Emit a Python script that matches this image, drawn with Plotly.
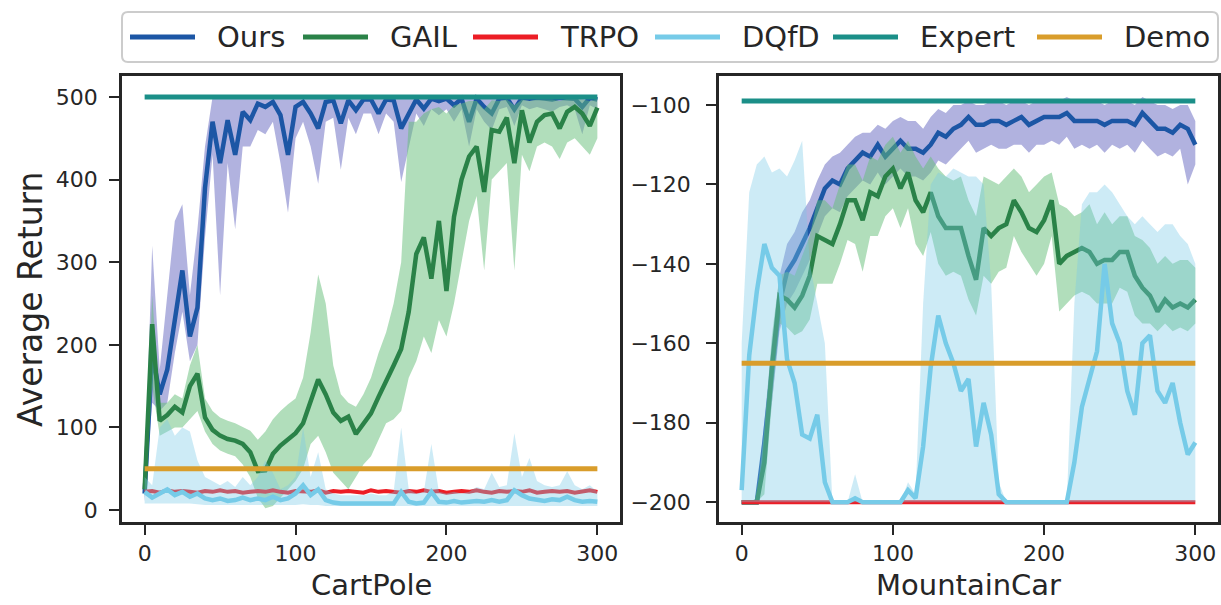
import plotly.graph_objects as go

# ---------------- data ----------------
STEPS = list(range(0, 301, 5))

# CartPole
cp_ours = [20, 190, 140, 170, 230, 290, 210, 245, 390, 470,
           420, 472, 430, 482, 472, 492, 488, 494, 478, 430,
           488, 494, 480, 462, 494, 496, 468, 496, 484, 497,
           497, 480, 497, 496, 462, 480, 497, 486, 498, 495,
           498, 490, 498, 470, 498, 488, 480, 498, 499, 485,
           499, 498, 499, 498, 497, 499, 499, 498, 488, 499,
           497]
cp_ours_hi = [30, 320, 170, 260, 350, 370, 260, 340, 440, 500,
              500, 500, 500, 500, 500, 500, 500, 500, 500, 500,
              500, 500, 500, 500, 500, 500, 500, 500, 500, 500,
              500, 500, 500, 500, 500, 500, 500, 500, 500, 500,
              500, 500, 500, 500, 500, 500, 500, 500, 500, 500,
              500, 500, 500, 500, 500, 500, 500, 500, 500, 500,
              500]
cp_ours_lo = [10, 130, 120, 130, 190, 240, 180, 200, 330, 430,
              260, 420, 340, 440, 440, 460, 455, 470, 420, 360,
              450, 470, 440, 395, 470, 475, 412, 475, 455, 480,
              480, 455, 480, 470, 397, 440, 480, 465, 485, 478,
              485, 470, 485, 440, 485, 470, 460, 485, 488, 465,
              490, 485, 488, 485, 482, 488, 490, 485, 455, 490,
              485]
cp_gail = [25, 225, 108, 115, 125, 118, 150, 165, 112, 97,
           90, 86, 84, 80, 70, 47, 48, 68, 78, 86,
           93, 105, 130, 158, 140, 118, 108, 113, 92, 105,
           117, 137, 155, 175, 195, 240, 310, 330, 280, 350,
           265, 355, 400, 428, 440, 385, 460, 458, 475, 420,
           484, 445, 470, 478, 480, 462, 482, 488, 480, 465,
           487]
cp_gail_hi = [30, 260, 130, 130, 140, 135, 175, 200, 135, 120,
              112, 108, 105, 100, 96, 85, 95, 110, 120, 128,
              135, 160, 215, 285, 250, 175, 140, 130, 125, 140,
              160, 190, 215, 250, 300, 470, 470, 480, 485, 488,
              480, 490, 492, 495, 495, 485, 496, 495, 497, 490,
              497, 495, 497, 497, 497, 495, 498, 498, 497, 495,
              498]
cp_gail_lo = [15, 150, 90, 95, 100, 100, 110, 120, 95, 80,
              72, 68, 65, 55, 40, 15, 2, 5, 15, 25,
              35, 50, 80, 90, 70, 45, 35, 25, 40, 55,
              65, 85, 105, 110, 120, 160, 180, 210, 190, 230,
              210, 250, 300, 350, 380, 290, 400, 410, 420, 290,
              430, 410, 440, 445, 440, 425, 445, 450, 440, 430,
              450]
cp_trpo = [22, 23, 21, 24, 22, 23, 22, 21, 23, 22,
           24, 22, 23, 21, 22, 23, 22, 24, 22, 21,
           23, 22, 22, 24, 21, 23, 22, 23, 22, 21,
           24, 22, 23, 22, 21, 23, 22, 24, 22, 23,
           21, 22, 23, 22, 24, 22, 21, 23, 22, 23,
           22, 24, 21, 22, 23, 22, 23, 21, 22, 24,
           22]
cp_dqfd = [22, 15, 20, 25, 18, 22, 16, 20, 14, 12,
           14, 11, 12, 15, 12, 14, 12, 16, 12, 14,
           20, 30, 18, 25, 12, 9, 8, 8, 8, 8,
           9, 8, 8, 8, 22, 10, 8, 9, 22, 10,
           9, 11, 9, 10, 11, 10, 12, 10, 12, 24,
           18, 14, 12, 11, 13, 12, 16, 12, 10, 11,
           10]
cp_dqfd_hi = [40, 30, 100, 110, 90, 100, 95, 60, 40, 35,
              30, 35, 28, 40, 30, 40, 60, 45, 25, 30,
              40, 100, 40, 70, 25, 20, 18, 18, 18, 18,
              20, 18, 18, 22, 100, 25, 20, 22, 80, 22,
              20, 22, 20, 22, 28, 25, 45, 28, 30, 93,
              40, 63, 35, 30, 28, 30, 47, 30, 25, 30,
              22]
cp_dqfd_lo = [8, 8, 8, 8, 8, 8, 8, 7, 6, 6,
              6, 6, 6, 6, 6, 6, 6, 6, 6, 6,
              6, 7, 6, 6, 5, 5, 5, 5, 5, 5,
              5, 5, 5, 5, 5, 5, 5, 5, 5, 5,
              5, 5, 5, 5, 5, 5, 5, 5, 5, 5,
              5, 5, 5, 5, 5, 5, 5, 5, 5, 5,
              5]
cp_ref_x = [0, 300]
cp_expert = [500, 500]
cp_demo = [50, 50]

# MountainCar
mc_ours = [-200, -200, -200, -185, -168, -150, -142, -139, -135, -131,
           -126, -121, -119, -120, -116, -114, -112, -113, -110, -113,
           -111, -109, -111, -111, -112, -110, -107, -108, -106, -105,
           -103, -105, -105, -104, -104, -105, -104, -103, -105, -104,
           -103, -103, -103, -102, -104, -104, -104, -104, -105, -104,
           -104, -104, -105, -102, -104, -106, -106, -107, -105, -106,
           -110]
mc_ours_hi = [-200, -200, -199, -180, -160, -143, -135, -132, -127, -124,
              -119, -115, -113, -112, -110, -108, -107, -107, -105, -106,
              -104, -103, -104, -104, -106, -103, -101, -102, -100, -100,
              -99, -100, -100, -99, -99, -100, -99, -99, -100, -99,
              -99, -99, -99, -98, -99, -99, -99, -99, -100, -99,
              -99, -99, -100, -98, -99, -100, -100, -101, -100, -100,
              -104]
mc_ours_lo = [-200, -200, -200, -190, -175, -157, -150, -147, -143, -139,
              -133, -128, -126, -127, -123, -121, -119, -120, -117, -120,
              -118, -116, -118, -118, -119, -117, -114, -115, -113, -111,
              -109, -112, -111, -110, -111, -111, -110, -110, -112, -110,
              -110, -109, -110, -108, -111, -110, -111, -110, -112, -110,
              -111, -110, -112, -109, -111, -113, -112, -113, -111, -120,
              -115]
mc_gail = [-200, -200, -200, -190, -166, -148, -149, -151, -148, -143,
           -133, -134, -135, -130, -124, -124, -129, -122, -123, -118,
           -116, -121, -117, -124, -127, -122, -128, -131, -131, -131,
           -138, -144, -131, -133, -131, -130, -124, -127, -131, -132,
           -129, -124, -140, -138, -137, -136, -137, -140, -139, -139,
           -137, -137, -143, -146, -148, -152, -149, -151, -150, -151,
           -149]
mc_gail_hi = [-200, -200, -199, -182, -158, -143, -142, -143, -138, -133,
              -124, -124, -126, -120, -115, -115, -119, -113, -114, -110,
              -108, -112, -109, -113, -116, -113, -116, -118, -119, -118,
              -124, -128, -118, -119, -120, -118, -116, -118, -122, -120,
              -118, -117, -125, -126, -128, -127, -125, -130, -127, -130,
              -128, -128, -133, -134, -136, -140, -138, -140, -139, -139,
              -141]
mc_gail_lo = [-200, -200, -200, -198, -175, -155, -156, -158, -157, -154,
              -145, -145, -145, -140, -134, -135, -142, -133, -133, -128,
              -126, -131, -126, -135, -138, -132, -140, -143, -142, -143,
              -149, -153, -143, -145, -142, -141, -133, -137, -140, -143,
              -140, -133, -152, -150, -148, -147, -148, -150, -150, -150,
              -146, -147, -153, -155, -155, -157, -155, -157, -156, -157,
              -155]
mc_dqfd = [-197, -163, -147, -135, -141, -143, -164, -170, -183, -184,
           -178, -195, -200, -200, -200, -199, -200, -200, -200, -200,
           -200, -200, -197, -199, -186, -166, -153, -160, -165, -172,
           -169, -186, -175, -183, -198, -200, -200, -200, -200, -200,
           -200, -200, -200, -200, -190, -176, -169, -162, -140, -155,
           -160, -172, -178, -160, -158, -172, -175, -170, -180, -188,
           -185]
mc_dqfd_hi = [-160, -122, -115, -113, -117, -116, -118, -114, -109, -140,
              -150, -160, -200, -200, -200, -193, -200, -200, -200, -200,
              -200, -200, -195, -198, -150, -120, -117, -118, -116, -117,
              -118, -118, -120, -145, -195, -200, -200, -200, -200, -200,
              -200, -200, -200, -200, -150, -125, -122, -122, -120, -122,
              -125, -128, -130, -128, -130, -132, -130, -130, -133, -135,
              -140]
mc_ref_x = [0, 300]
mc_dqfd_lo = [-200, -200]
mc_trpo = [-200, -200]
mc_expert = [-99, -99]
mc_demo = [-165, -165]

LEGEND_NAMES = ["Ours", "GAIL", "TRPO", "DQfD", "Expert", "Demo"]
cp_yticks = [0, 100, 200, 300, 400, 500]
cp_ytick_labels = ["0", "100", "200", "300", "400", "500"]
mc_yticks = [-200, -180, -160, -140, -120, -100]
mc_ytick_labels = ["\u2212200", "\u2212180", "\u2212160", "\u2212140", "\u2212120", "\u2212100"]
xticks = [0, 100, 200, 300]

# ---------------- style ----------------
FONT = "DejaVu Sans"
INK = "#262626"
COLORS = {"Ours": "#1c56a5", "GAIL": "#2a8248", "TRPO": "#ec1d25",
          "DQfD": "#76cbe8", "Expert": "#1b8f88", "Demo": "#d99d2b"}
WIDTHS = {"Ours": 4.5, "GAIL": 4.5, "TRPO": 4, "DQfD": 4.5, "Expert": 5, "Demo": 5}
F_OURS = "rgba(120,122,200,0.58)"
F_GAIL = "rgba(100,190,120,0.5)"
F_DQFD = "rgba(120,200,230,0.37)"

W, H = 1221, 605
FRAME_L = (122, 620)
FRAME_R = (719, 1218)
FRAME_Y = (76, 522)
LEG_BOX = (122, 12, 1218, 62)
LEG_TEXT_X = [215, 388, 558, 740, 918, 1122]   # legend text starts (px)
LEG_HANDLE = (85, 20)                            # handle start / end offsets before text
PAD_L = "\u00a0"    # extra gap between tick labels and ticks
PAD_R = "\u2002"

fig = go.Figure()


def band(xa, ya, xs_lo, lo, xs_hi, hi, color):
    fig.add_trace(go.Scatter(x=xs_lo, y=lo, mode="lines", line=dict(width=0),
                             showlegend=False, hoverinfo="skip", xaxis=xa, yaxis=ya))
    fig.add_trace(go.Scatter(x=xs_hi, y=hi, mode="lines", line=dict(width=0),
                             fill="tonexty", fillcolor=color,
                             showlegend=False, hoverinfo="skip", xaxis=xa, yaxis=ya))


def line(xa, ya, xs, ys, name):
    fig.add_trace(go.Scatter(x=xs, y=ys, mode="lines", name=name,
                             line=dict(color=COLORS[name], width=WIDTHS[name]),
                             showlegend=False, legendgroup=name,
                             xaxis=xa, yaxis=ya))


# CartPole
band("x", "y", STEPS, cp_ours_lo, STEPS, cp_ours_hi, F_OURS)
line("x", "y", STEPS, cp_ours, "Ours")
band("x", "y", STEPS, cp_gail_lo, STEPS, cp_gail_hi, F_GAIL)
line("x", "y", STEPS, cp_gail, "GAIL")
line("x", "y", STEPS, cp_trpo, "TRPO")
band("x", "y", STEPS, cp_dqfd_lo, STEPS, cp_dqfd_hi, F_DQFD)
line("x", "y", STEPS, cp_dqfd, "DQfD")
line("x", "y", cp_ref_x, cp_expert, "Expert")
line("x", "y", cp_ref_x, cp_demo, "Demo")

# MountainCar
band("x2", "y2", STEPS, mc_ours_lo, STEPS, mc_ours_hi, F_OURS)
line("x2", "y2", STEPS, mc_ours, "Ours")
band("x2", "y2", STEPS, mc_gail_lo, STEPS, mc_gail_hi, F_GAIL)
line("x2", "y2", STEPS, mc_gail, "GAIL")
line("x2", "y2", mc_ref_x, mc_trpo, "TRPO")
band("x2", "y2", mc_ref_x, mc_dqfd_lo, STEPS, mc_dqfd_hi, F_DQFD)
line("x2", "y2", STEPS, mc_dqfd, "DQfD")
line("x2", "y2", mc_ref_x, mc_expert, "Expert")
line("x2", "y2", mc_ref_x, mc_demo, "Demo")

ydom = [1 - FRAME_Y[1] / H, 1 - FRAME_Y[0] / H]
axis_common = dict(showline=True, mirror=True, linecolor=INK, linewidth=2.5,
                   ticks="outside", ticklen=10, tickwidth=2, tickcolor=INK,
                   showgrid=False, zeroline=False,
                   tickfont=dict(family=FONT, size=22, color=INK))

fig.update_layout(
    width=W, height=H,
    margin=dict(l=0, r=0, t=0, b=0),
    paper_bgcolor="white", plot_bgcolor="white",
    font=dict(family=FONT, color=INK),
    showlegend=False,
    xaxis=dict(domain=[FRAME_L[0] / W, FRAME_L[1] / W], range=[-15, 315],
               tickvals=xticks, anchor="y", **axis_common),
    yaxis=dict(domain=ydom, range=[-14.5, 525.4], tickvals=cp_yticks,
               ticktext=[t + PAD_L for t in cp_ytick_labels], anchor="x", **axis_common),
    xaxis2=dict(domain=[FRAME_R[0] / W, FRAME_R[1] / W], range=[-15, 315],
                tickvals=xticks, anchor="y2", **axis_common),
    yaxis2=dict(domain=ydom, range=[-205, -92.7], tickvals=mc_yticks,
                ticktext=[t + PAD_R for t in mc_ytick_labels], anchor="x2", **axis_common),
)

# legend: rounded frame + handles + labels
bx0, by0, bx1, by1 = LEG_BOX
x0, x1 = bx0 / W, bx1 / W
y0, y1 = 1 - by1 / H, 1 - by0 / H
rx, ry = 6 / W, 6 / H
path = (f"M {x0+rx},{y0} L {x1-rx},{y0} Q {x1},{y0} {x1},{y0+ry} "
        f"L {x1},{y1-ry} Q {x1},{y1} {x1-rx},{y1} L {x0+rx},{y1} "
        f"Q {x0},{y1} {x0},{y1-ry} L {x0},{y0+ry} Q {x0},{y0} {x0+rx},{y0} Z")
fig.add_shape(type="path", path=path, xref="paper", yref="paper",
              line=dict(color="#cccccc", width=2), fillcolor="rgba(255,255,255,0)")
ly = 1 - (by0 + by1) / 2 / H
for name, tx in zip(LEGEND_NAMES, LEG_TEXT_X):
    fig.add_shape(type="line", xref="paper", yref="paper",
                  x0=(tx - LEG_HANDLE[0]) / W, x1=(tx - LEG_HANDLE[1]) / W, y0=ly, y1=ly,
                  line=dict(color=COLORS[name], width=5))
    fig.add_annotation(text=name, x=tx / W, y=ly, xref="paper", yref="paper",
                       showarrow=False, xanchor="left", yanchor="middle",
                       font=dict(family=FONT, size=29, color=INK))

ann_font = dict(family=FONT, size=29, color=INK)
fig.add_annotation(text="CartPole", x=(FRAME_L[0] + FRAME_L[1]) / 2 / W, y=1 - 585 / H,
                   xref="paper", yref="paper", showarrow=False, font=ann_font,
                   xanchor="center", yanchor="middle")
fig.add_annotation(text="MountainCar", x=(FRAME_R[0] + FRAME_R[1]) / 2 / W, y=1 - 585 / H,
                   xref="paper", yref="paper", showarrow=False, font=ann_font,
                   xanchor="center", yanchor="middle")
fig.add_annotation(text="Average Return", x=31 / W, y=sum(ydom) / 2,
                   xref="paper", yref="paper", showarrow=False, textangle=-90,
                   font=dict(family=FONT, size=33, color=INK),
                   xanchor="center", yanchor="middle")

fig.write_html("out.html", config={"displayModeBar": False},
               post_script="document.body.style.margin='0px';")
